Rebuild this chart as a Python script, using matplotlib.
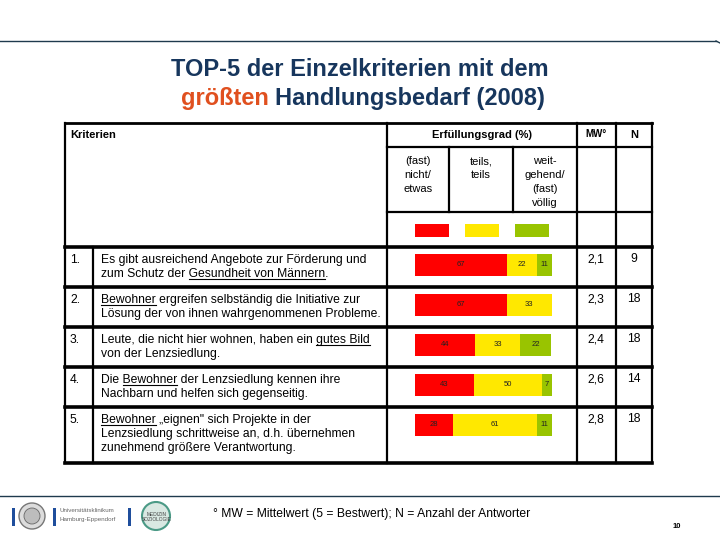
import matplotlib.pyplot as plt
from matplotlib.patches import Rectangle, Circle

plt.rcParams['font.family'] = ['Liberation Sans', 'DejaVu Sans']

# data
title_1 = "TOP-5 der Einzelkriterien mit dem"
title_2a = "größten"
title_2b = "Handlungsbedarf (2008)"
categories = [["(fast)", "nicht/", "etwas"], ["teils,", "teils"],
              ["weit-", "gehend/", "(fast)", "völlig"]]
colors = ["#ff0000", "#ffe800", "#99c400"]
row_nums = ["1.", "2.", "3.", "4.", "5."]
criteria = [
    [[("Es gibt ausreichend Angebote zur Förderung und", False)],
     [("zum Schutz der ", False), ("Gesundheit von Männern", True), (".", False)]],
    [[("Bewohner", True), (" ergreifen selbständig die Initiative zur", False)],
     [("Lösung der von ihnen wahrgenommenen Probleme.", False)]],
    [[("Leute, die nicht hier wohnen, haben ein ", False), ("gutes Bild", True)],
     [("von der Lenzsiedlung.", False)]],
    [[("Die ", False), ("Bewohner", True), (" der Lenzsiedlung kennen ihre", False)],
     [("Nachbarn und helfen sich gegenseitig.", False)]],
    [[("Bewohner", True), (" \u201eeignen\" sich Projekte in der", False)],
     [("Lenzsiedlung schrittweise an, d.h. übernehmen", False)],
     [("zunehmend größere Verantwortung.", False)]],
]
nicht = [67, 67, 44, 43, 28]
teils = [22, 33, 33, 50, 61]
voellig = [11, 0, 22, 7, 11]
mw = ["2,1", "2,3", "2,4", "2,6", "2,8"]
n_resp = ["9", "18", "18", "14", "18"]
footnote = "° MW = Mittelwert (5 = Bestwert); N = Anzahl der Antworter"

navy = "#17365d"
fig = plt.figure(figsize=(7.2, 5.4), dpi=100)
ax = fig.add_axes([0, 0, 1, 1])
ax.set_xlim(0, 720)
ax.set_ylim(540, 0)
ax.axis("off")
renderer = fig.canvas.get_renderer()


def width(s, **kw):
    t = ax.text(0, 0, s, **kw)
    w = t.get_window_extent(renderer).width
    t.remove()
    return w


def hline(y, x0, x1, lw=2.0):
    ax.plot([x0, x1], [y, y], color="black", lw=lw, solid_capstyle="projecting")


def vline(x, y0, y1, lw=1.6):
    ax.plot([x, x], [y0, y1], color="black", lw=lw, solid_capstyle="projecting")


def text_line(x, y, segs, size):
    full = "".join(s for s, _ in segs)
    ax.text(x, y, full, fontsize=size, va="baseline", ha="left")
    prefix = ""
    for s, ul in segs:
        prefix += s
        if ul:
            end = x + width(prefix, fontsize=size)
            start = end - width(s, fontsize=size)
            ax.plot([start, end], [y + 2, y + 2], color="black", lw=0.8)


# decorative rules
ax.plot([0, 716], [41, 41], color="#1f3a4d", lw=1.0)
ax.plot([716, 720], [41, 43], color="#1f3a4d", lw=1.0)
ax.plot([0, 720], [496, 496], color="#1f3a4d", lw=1.0)

# title
tsize = 17
ax.text(360, 69, title_1, fontsize=tsize, fontweight="bold", color=navy,
        ha="center", va="center")
full2 = title_2a + " " + title_2b
w_full = width(full2, fontsize=tsize, fontweight="bold")
x0 = 363 - w_full / 2
ax.text(x0, 98, title_2a, fontsize=tsize, fontweight="bold", color="#e0501f",
        ha="left", va="center")
ax.text(x0 + w_full - width(title_2b, fontsize=tsize, fontweight="bold"), 98,
        title_2b, fontsize=tsize, fontweight="bold", color=navy, ha="left", va="center")

# table grid
L, R = 65, 652
top, head, sub, hbot = 123, 147, 212, 247
row_tops = [247, 287, 327, 367, 407]
bot = 463
hline(top, L, R, 2.0)
hline(head, 387, R, 1.6)
hline(sub, 387, R, 1.6)
for y in row_tops:
    hline(y, L, R, 2.6)
hline(bot, L, R, 2.6)
vline(L, top, bot)
vline(93, hbot, bot)
vline(387, top, bot)
vline(449, head, sub)
vline(513, head, sub)
vline(577, top, bot)
vline(616, top, bot)
vline(R, top, bot)

# header texts
ax.text(70, 138, "Kriterien", fontsize=8, fontweight="bold", va="baseline")
ax.text(482, 138, "Erfüllungsgrad (%)", fontsize=8, fontweight="bold",
        va="baseline", ha="center")
ax.text(596, 137, "MW°", fontsize=7, fontweight="bold", va="baseline", ha="center")
ax.text(634, 138, "N", fontsize=8, fontweight="bold", va="baseline", ha="center")
for cx, lines in zip([418, 481, 545], categories):
    for i, s in enumerate(lines):
        ax.text(cx, 164 + 14 * i, s, fontsize=8, ha="center", va="baseline")
for cx, c in zip([432, 482, 532], colors):
    ax.add_patch(Rectangle((cx - 17, 224), 34, 13, color=c, lw=0))

# rows
fs = 8.7
for k in range(5):
    yb = row_tops[k] + 16
    ax.text(70, yb, row_nums[k], fontsize=fs, va="baseline")
    for i, segs in enumerate(criteria[k]):
        text_line(101, yb + 14 * i, segs, fs)
    ax.text(596, yb - 1, mw[k], fontsize=fs, ha="center", va="baseline")
    ax.text(634, yb - 1, n_resp[k], fontsize=fs, ha="center", va="baseline")

# stacked bars
bx = fig.add_axes([415 / 720, 1 - 445 / 540, 137 / 720, 200 / 540])
bx.set_xlim(0, 100)
bx.set_ylim(5.5, 0.5)
bx.axis("off")
pos = [1, 2, 3, 4, 5]
left = [0] * 5
for vals, c in zip([nicht, teils, voellig], colors):
    bx.barh(pos, vals, left=left, height=0.55, color=c, lw=0)
    for p, v, l in zip(pos, vals, left):
        if v > 0:
            bx.text(l + v / 2, p, str(v), fontsize=5.5, color="#222222",
                    ha="center", va="center")
    left = [a + b for a, b in zip(left, vals)]

# footer logos (approximation)
for bxp in [12, 53, 128]:
    ax.add_patch(Rectangle((bxp, 508), 3, 18, color="#1f4e9c", lw=0))
ax.add_patch(Circle((32, 516), 13, facecolor="#dcdcdc", edgecolor="#777777", lw=1))
ax.add_patch(Circle((32, 516), 8, facecolor="#bdbdbd", edgecolor="#666666", lw=0.6))
ax.text(60, 510, "Universitätsklinikum", fontsize=4.5, color="#666666", va="center")
ax.text(60, 520, "Hamburg-Eppendorf", fontsize=4.5, color="#666666", va="center")
ax.add_patch(Circle((156, 516), 14, facecolor="#d9e8e2", edgecolor="#4b9a86", lw=1.5))
ax.text(157, 517, "MEDIZIN\nSOZIOLOGIE", fontsize=3.5, color="#444444",
        ha="center", va="center")

ax.text(213, 514, footnote, fontsize=8.7, va="center")
ax.text(677, 527, "10", fontsize=5.5, fontweight="bold", ha="center", va="center")

fig.savefig("out.png", dpi=100)
